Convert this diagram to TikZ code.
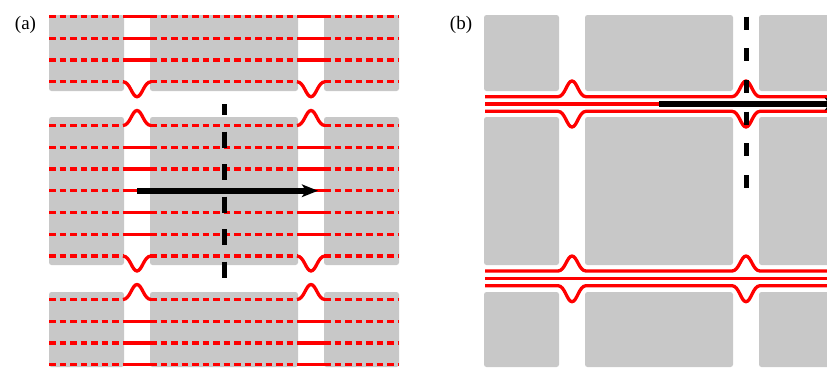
\documentclass[tikz,border=0pt]{standalone}
\usepackage{fontspec}
\setmainfont{Liberation Serif}
\usetikzlibrary{arrows.meta}
\definecolor{blockgray}{RGB}{200,200,200}

\begin{document}
\begin{tikzpicture}[x=1pt,y=-1pt]
  \tikzstyle{block}=[fill=blockgray,rounded corners=2.5pt]
  \tikzstyle{lane}=[red,line width=3.3pt]
  \tikzstyle{lanedash}=[lane,dash pattern=on 6.5pt off 4pt]
  \tikzstyle{cut}=[black,line width=5pt]
  \tikzstyle{flow}=[black,line width=5.5pt,-{Stealth[length=16pt,width=12.5pt,inset=4pt]}]
  \tikzstyle{lbl}=[font=\fontsize{19}{22}\selectfont,inner sep=0pt]

  \useasboundingbox (0,0) rectangle (827,368);
  \clip (0,0) rectangle (827,368);

  % (a) blocks and lanes
  \foreach \xa/\xb in {49/124,150/298,324/399}{
    \fill[block] (\xa,15) rectangle (\xb,91);
    \fill[block] (\xa,117) rectangle (\xb,265);
    \fill[block] (\xa,292) rectangle (\xb,367);
  }
  \foreach \y in {16.5,38.25,60,81.75,125.5,147.25,169,190.75,212.5,234.25,256,299.5,321.25,343,364.75}{
    \foreach \xa/\xb in {49/124,150/298,324/399}
      \draw[lanedash] (\xa,\y) -- (\xb,\y);
  }
  \foreach \y in {16.5,38.25,60,147.25,169,190.75,212.5,234.25,321.25,343,364.75}{
    \draw[lane] (124,\y) -- (150,\y);
    \draw[lane] (298,\y) -- (324,\y);
  }
  \foreach \xc in {137,311}{
    \foreach \y/\yb in {81.75/96.75,125.5/110.5,256/271,299.5/284.5}
      \draw[lane] (\xc-14,\y) .. controls (\xc-7,\y) and (\xc-5,\yb) .. (\xc,\yb)
        .. controls (\xc+5,\yb) and (\xc+7,\y) .. (\xc+14,\y);
  }
  \draw[cut,dash pattern=on 16pt off 16.5pt,dash phase=5pt] (224,104) -- (224,278.5);
  \coordinate (fa0) at (137,190.75);
  \coordinate (fa1) at (318,190.75);
  \draw[flow] (fa0) -- (fa1);
  \node[lbl] (labela) at (25.5,25) {(a)};

  % (b) blocks and lanes
  \foreach \xa/\xb in {484/559,585/733,759/840}{
    \fill[block] (\xa,15) rectangle (\xb,91);
    \fill[block] (\xa,117) rectangle (\xb,265);
    \fill[block] (\xa,292) rectangle (\xb,367);
  }
  \draw[lane] (485,104) -- (840,104);
  \draw[lane] (485,278.3) -- (840,278.3);
  \foreach \y/\yb in {96.7/81,111.3/127,271/256,285.7/301.7}
    \draw[lane] (485,\y) -- (558,\y)
      .. controls (565,\y) and (567,\yb) .. (572,\yb)
      .. controls (577,\yb) and (579,\y) .. (586,\y)
      -- (732,\y)
      .. controls (739,\y) and (741,\yb) .. (746,\yb)
      .. controls (751,\yb) and (753,\y) .. (760,\y)
      -- (840,\y);
  \draw[cut,dash pattern=on 13pt off 18.7pt] (746.5,16.5) -- (746.5,191);
  \coordinate (fb0) at (659,104);
  \coordinate (fb1) at (841,104);
  \draw[flow] (fb0) -- (fb1);
  \node[lbl] (labelb) at (461,24.5) {(b)};
\end{tikzpicture}
\end{document}
